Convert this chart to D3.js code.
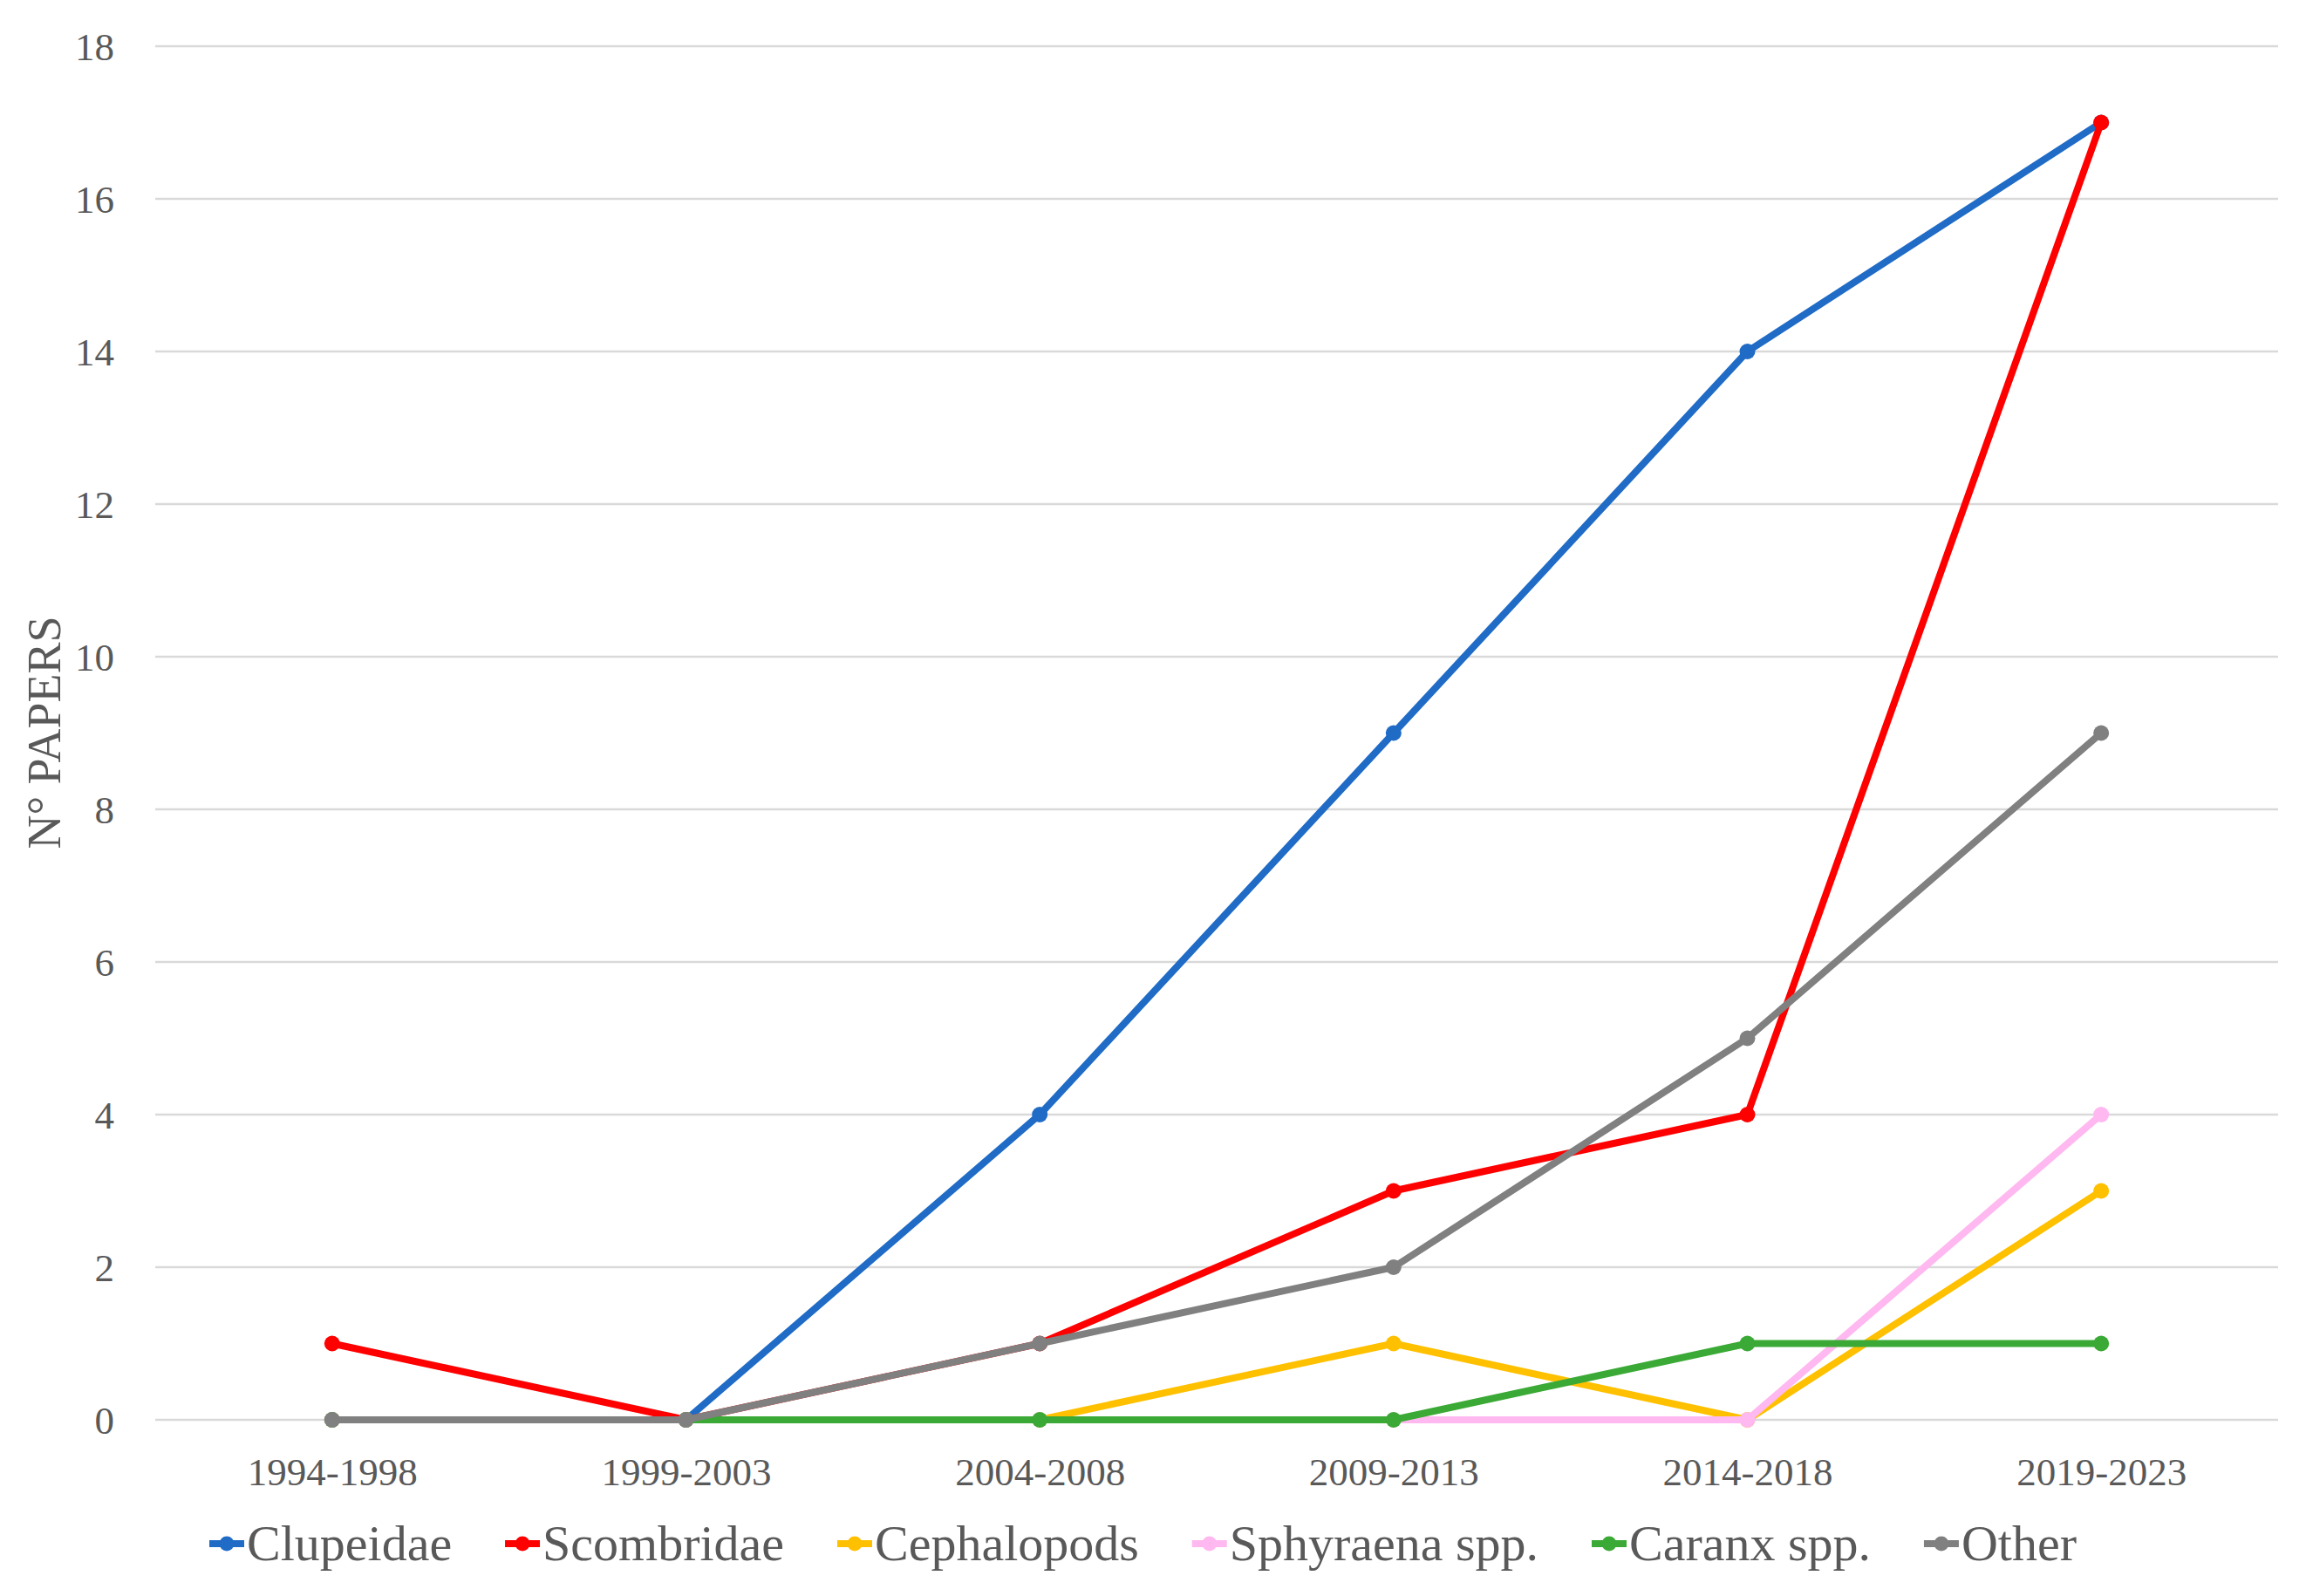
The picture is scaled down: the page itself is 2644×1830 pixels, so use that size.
<!DOCTYPE html>
<html>
<head>
<meta charset="utf-8">
<script src="https://cdn.jsdelivr.net/npm/d3@7"></script>
<style>
html,body{margin:0;padding:0;background:#fff;}
svg{display:block;}
</style>
</head>
<body>
<svg id="chart" width="2644" height="1830"></svg>
<script>
const categories = ["1994-1998","1999-2003","2004-2008","2009-2013","2014-2018","2019-2023"];
const seriesNames = ["Clupeidae","Scombridae","Cephalopods","Sphyraena spp.","Caranx spp.","Other"];
const clupeidae   = [0,0,4,9,14,17];
const scombridae  = [1,0,1,3,4,17];
const cephalopods = [0,0,0,1,0,3];
const sphyraena   = [0,0,0,0,0,4];
const caranx      = [0,0,0,0,1,1];
const other       = [0,0,1,2,5,9];
const yTicks = [0,2,4,6,8,10,12,14,16,18];
const colors = ["#1f6bc6","#ff0000","#ffc000","#ffb8f0","#3aa935","#808080"];

(function(){
const seriesValues = [clupeidae, scombridae, cephalopods, sphyraena, caranx, other];
const series = seriesNames.map((n,i)=>({name:n, values:seriesValues[i], color:colors[i]}));

const svg = d3.select("#chart");
const plotLeft = 178, plotRight = 2612, plotTop = 53, plotBottom = 1628;

const x = d3.scalePoint().domain(categories).range([plotLeft,plotRight]).padding(0.5);
const y = d3.scaleLinear().domain([0,18]).range([plotBottom,plotTop]);

const font = "'Liberation Serif', 'DejaVu Serif', serif";

svg.append("g").selectAll("line").data(yTicks).join("line")
  .attr("x1",plotLeft).attr("x2",plotRight)
  .attr("y1",d=>y(d)).attr("y2",d=>y(d))
  .attr("stroke","#d9d9d9").attr("stroke-width",2.5);

const yAxis = d3.axisLeft(y).tickValues(yTicks).tickSize(0).tickPadding(0);
const gy = svg.append("g").attr("transform",`translate(131,0)`).call(yAxis);
gy.select(".domain").remove();
gy.selectAll("text").attr("font-family",font).attr("font-size",45).attr("fill","#595959").attr("dy","0.34em");

const xAxis = d3.axisBottom(x).tickSize(0).tickPadding(0);
const gx = svg.append("g").attr("transform",`translate(0,1688)`).call(xAxis);
gx.select(".domain").remove();
gx.selectAll("text").attr("font-family",font).attr("font-size",45).attr("fill","#595959").attr("dy","0.34em");

svg.append("text")
  .attr("transform","translate(50,840) rotate(-90)")
  .attr("text-anchor","middle").attr("dy","0.35em")
  .attr("font-family",font).attr("font-size",54).attr("fill","#595959")
  .text("N° PAPERS");

const line = d3.line().x((d,i)=>x(categories[i])).y(d=>y(d));
const gl = svg.append("g");
series.forEach(s=>{
  gl.append("path").attr("d",line(s.values))
    .attr("fill","none").attr("stroke",s.color).attr("stroke-width",8)
    .attr("stroke-linejoin","round").attr("stroke-linecap","round");
  gl.append("g").selectAll("circle").data(s.values).join("circle")
    .attr("cx",(d,i)=>x(categories[i])).attr("cy",d=>y(d)).attr("r",9)
    .attr("fill",s.color);
});

const legY = 1770;
const lg = svg.append("g");
const items = series.map(s=>{
  const g = lg.append("g");
  g.append("line").attr("x1",0).attr("x2",40).attr("y1",0).attr("y2",0)
    .attr("stroke",s.color).attr("stroke-width",8);
  g.append("circle").attr("cx",20).attr("cy",0).attr("r",8.5).attr("fill",s.color);
  const t = g.append("text").attr("x",43).attr("y",0).attr("dy","0.33em")
    .attr("font-family",font).attr("font-size",58).attr("fill","#595959").text(s.name);
  return {g, w: 43 + t.node().getComputedTextLength()};
});
const legStart = 240, legEnd = 2381;
const totalW = d3.sum(items,d=>d.w);
const gap = (legEnd - legStart - totalW)/(items.length-1);
let cx = legStart;
items.forEach(it=>{
  it.g.attr("transform",`translate(${cx},${legY})`);
  cx += it.w + gap;
});
})();
</script>
</body>
</html>
